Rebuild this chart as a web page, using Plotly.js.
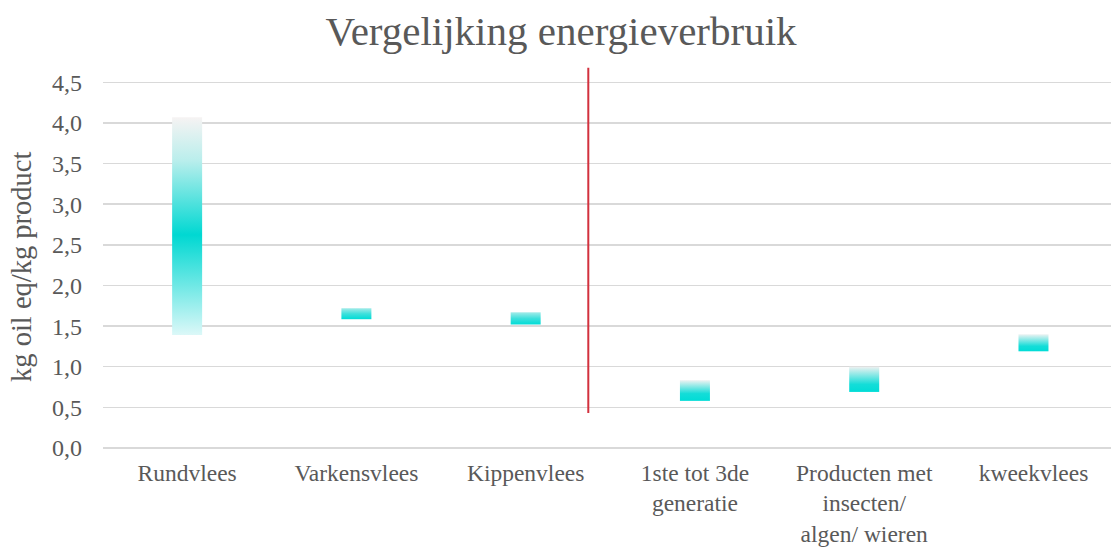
<!DOCTYPE html>
<html>
<head>
<meta charset="utf-8">
<script src="https://cdn.plot.ly/plotly-3.0.1.min.js"></script>
<style>html,body{margin:0;padding:0;background:#fff;}#chart{width:1111px;height:550px;}</style>
</head>
<body>
<div id="chart"></div>
<script>
// Data
var categories = ["Rundvlees", "Varkensvlees", "Kippenvlees", "1ste tot 3de<br>generatie", "Producten met<br>insecten/<br>algen/ wieren", "kweekvlees"];
var lowValues  = [1.39, 1.585, 1.52, 0.58, 0.69, 1.19];
var highValues = [4.07, 1.72, 1.67, 0.835, 1.0, 1.40];
var yTickVals  = [0, 0.5, 1, 1.5, 2, 2.5, 3, 3.5, 4, 4.5];
var yTickText  = ["0,0", "0,5", "1,0", "1,5", "2,0", "2,5", "3,0", "3,5", "4,0", "4,5"];
var yAxisTitle = "kg oil eq/kg product";
var separatorX = 2.37;
var separatorY = [0.43, 4.68];

// Styles
var gradients = [
  [[0, "#dcf8f8"], [0.46, "#00d8d2"], [0.8, "#b9eeec"], [1, "#f6f3f3"]],
  [[0, "#00dcd6"], [0.5, "#3fe0dc"], [1, "#a4ebe9"]],
  [[0, "#00dcd6"], [0.5, "#3fe0dc"], [1, "#a4ebe9"]],
  [[0, "#00dcd6"], [0.35, "#14ddd8"], [1, "#f0f2f2"]],
  [[0, "#00dcd6"], [0.3, "#14ddd8"], [1, "#eef1f1"]],
  [[0, "#00dcd6"], [0.3, "#14ddd8"], [1, "#eef3f3"]]
];
var halfWidth = 0.0886;
var fontFam = "'Liberation Serif', 'Times New Roman', serif";
var textColor = "#595959";

var traces = categories.map(function (c, i) {
  return {
    type: "scatter",
    x: [i - halfWidth, i + halfWidth, i + halfWidth, i - halfWidth, i - halfWidth],
    y: [lowValues[i], lowValues[i], highValues[i], highValues[i], lowValues[i]],
    mode: "lines",
    line: {width: 0, color: "rgba(0,0,0,0)"},
    fill: "toself",
    fillgradient: {type: "vertical", colorscale: gradients[i]},
    hoverinfo: "skip",
    showlegend: false
  };
});

var layout = {
  width: 1111,
  height: 550,
  margin: {l: 103, r: 0, t: 62, b: 102},
  paper_bgcolor: "#ffffff",
  plot_bgcolor: "#ffffff",
  font: {family: fontFam, color: textColor},
  title: {
    text: "Vergelijking energieverbruik",
    font: {family: fontFam, size: 41, color: textColor},
    x: 0.505, xanchor: "center",
    y: 0.945, yanchor: "middle"
  },
  xaxis: {
    range: [-0.497, 5.458],
    tickmode: "array",
    tickvals: categories.map(function (c, i) { return i; }),
    ticktext: categories,
    tickfont: {family: fontFam, size: 23.5, color: textColor},
    showgrid: false,
    zeroline: false,
    showline: false,
    ticks: "",
    ticklabelstandoff: 8,
    fixedrange: true
  },
  yaxis: {
    range: [0, 4.75],
    tickmode: "array",
    tickvals: yTickVals,
    ticktext: yTickText,
    tickfont: {family: fontFam, size: 24, color: textColor},
    showgrid: true,
    gridcolor: "#d9d9d9",
    gridwidth: 1.5,
    zeroline: true,
    zerolinecolor: "#d9d9d9",
    zerolinewidth: 1.5,
    showline: false,
    ticks: "",
    ticklabelstandoff: 20,
    fixedrange: true
  },
  annotations: [{
    text: yAxisTitle,
    xref: "paper", yref: "paper",
    x: -0.0804, y: 0.469,
    xanchor: "center", yanchor: "middle",
    textangle: -90,
    showarrow: false,
    font: {family: fontFam, size: 28.5, color: textColor}
  }],
  shapes: [{
    type: "line", xref: "x", yref: "y",
    x0: separatorX, x1: separatorX, y0: separatorY[0], y1: separatorY[1],
    line: {color: "#d2313e", width: 2}
  }]
};

Plotly.newPlot("chart", traces, layout, {displayModeBar: false, staticPlot: true});
</script>
</body>
</html>
